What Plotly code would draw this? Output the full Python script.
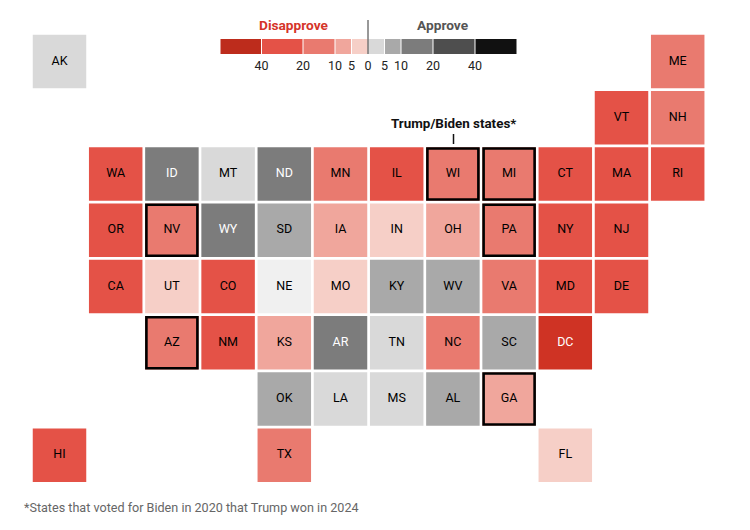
import plotly.graph_objects as go

# Tile grid of the states, top row first, None = empty tile
tile_rows = [
    ["AK", None, None, None, None, None, None, None, None, None, None, "ME"],
    [None, None, None, None, None, None, None, None, None, None, "VT", "NH"],
    [None, "WA", "ID", "MT", "ND", "MN", "IL", "WI", "MI", "CT", "MA", "RI"],
    [None, "OR", "NV", "WY", "SD", "IA", "IN", "OH", "PA", "NY", "NJ", None],
    [None, "CA", "UT", "CO", "NE", "MO", "KY", "WV", "VA", "MD", "DE", None],
    [None, None, "AZ", "NM", "KS", "AR", "TN", "NC", "SC", "DC", None, None],
    [None, None, None, None, "OK", "LA", "MS", "AL", "GA", None, None, None],
    ["HI", None, None, None, "TX", None, None, None, None, "FL", None, None],
]

states = ["AK", "ME", "VT", "NH", "WA", "ID", "MT", "ND", "MN", "IL", "WI", "MI", "CT", "MA", "RI",
          "OR", "NV", "WY", "SD", "IA", "IN", "OH", "PA", "NY", "NJ",
          "CA", "UT", "CO", "NE", "MO", "KY", "WV", "VA", "MD", "DE",
          "AZ", "NM", "KS", "AR", "TN", "NC", "SC", "DC",
          "OK", "LA", "MS", "AL", "GA", "HI", "TX", "FL"]
# Net approval, estimated from the colour band of each tile (negative = disapprove)
net_approval = [3, -15, -25, -15, -25, 15, 3, 15, -15, -25, -15, -15, -25, -25, -25,
                -25, -15, 15, 8, -8, -3, -8, -15, -25, -25,
                -25, -3, -25, 0, -3, 8, 8, -15, -25, -25,
                -15, -25, -8, 15, 3, -15, 8, -45,
                8, 3, 3, 8, -8, -25, -15, -3]
swing_states = ["WI", "MI", "NV", "PA", "AZ", "GA"]

band_edges = [-60, -40, -20, -10, -5, 0, 5, 10, 20, 40, 60]
band_colors = ["#bd2c1c", "#e45247", "#e97a6f", "#f0a69c", "#f6cfc7",
               "#d9d9d9", "#a9a9a9", "#7c7c7c", "#4e4e4e", "#111111"]
band_widths = [41.5, 41.5, 32, 16.5, 16.5, 16.5, 16.5, 32, 42, 42]
legend_ticks = [-40, -20, -10, -5, 0, 5, 10, 20, 40]
white_text = ["ID", "ND", "WY", "AR", "DC"]

FONT = "Roboto"
NEUTRAL = "#f0f0f0"
DC_RED = "#cf3324"  # DC tile is a bit brighter than the legend swatch


def band_color(v):
    if v == 0:
        return NEUTRAL
    if v < -40:
        return DC_RED
    for i in range(len(band_colors)):
        if band_edges[i] <= v < band_edges[i + 1]:
            return band_colors[i]
    return band_colors[-1]


col_of = {s: c for row in tile_rows for c, s in enumerate(row) if s}
row_of = {s: r for r, row in enumerate(tile_rows) for s in row if s}
xs = [col_of[s] for s in states]
ys = [row_of[s] for s in states]
colors = [band_color(v) for v in net_approval]
text_colors = ["white" if s in white_text else "#000000" for s in states]

fig = go.Figure()

fig.add_trace(go.Scatter(
    x=xs, y=ys, mode="markers+text", text=states,
    textposition="middle center",
    textfont=dict(family=FONT, size=12.5, color=text_colors),
    marker=dict(symbol="square", size=53.5, color=colors, line=dict(width=0)),
    customdata=net_approval,
    hovertemplate="%{text}: %{customdata}<extra></extra>",
    showlegend=False,
))

# Black outline on the Trump/Biden states
fig.add_trace(go.Scatter(
    x=[col_of[s] for s in swing_states], y=[row_of[s] for s in swing_states],
    mode="markers",
    marker=dict(symbol="square-open", size=51, color="#000000", line=dict(width=2.6, color="#000000")),
    hoverinfo="skip", showlegend=False,
))

# Legend bar, drawn on its own axes; 0 sits at the middle divider
zero_band = band_edges.index(0)
starts = [sum(band_widths[:i]) - sum(band_widths[:zero_band]) for i in range(len(band_widths))]
for start, width, color in zip(starts, band_widths, band_colors):
    fig.add_trace(go.Bar(
        x=[width - 1], y=[0], base=[start + 0.5], orientation="h", width=1,
        marker=dict(color=color, line=dict(width=0)),
        xaxis="x2", yaxis="y2", hoverinfo="skip", showlegend=False,
    ))

tick_pos = [starts[band_edges.index(t)] for t in legend_ticks]

fig.add_shape(type="line", xref="x2", x0=0, x1=0, yref="paper", y0=1 - 20 / 530, y1=1 - 54 / 530,
              line=dict(color="#333333", width=1))
fig.add_shape(type="line", xref="paper", x0=453.5 / 750, x1=453.5 / 750, yref="paper",
              y0=1 - 134 / 530, y1=1 - 144 / 530, line=dict(color="#111111", width=1.5))

fig.add_annotation(xref="paper", yref="paper", x=293.5 / 750, xanchor="center", y=1 - 25 / 530, yanchor="middle",
                   text="<b>Disapprove</b>", showarrow=False, font=dict(family=FONT, size=13.7, color="#d5342a"))
fig.add_annotation(xref="paper", yref="paper", x=442.5 / 750, xanchor="center", y=1 - 25 / 530, yanchor="middle",
                   text="<b>Approve</b>", showarrow=False, font=dict(family=FONT, size=13.7, color="#555555"))
fig.add_annotation(xref="paper", yref="paper", x=453 / 750, xanchor="center", y=1 - 124 / 530, yanchor="middle",
                   text="<b>Trump/Biden states*</b>", showarrow=False, font=dict(family=FONT, size=13.4, color="#111111"))
fig.add_annotation(xref="paper", yref="paper", x=22 / 750, xanchor="left", y=1 - 507 / 530, yanchor="middle",
                   text="*States that voted for Biden in 2020 that Trump won in 2024",
                   showarrow=False, font=dict(family=FONT, size=12.6, color="#666666"))

fig.update_layout(
    width=750, height=530,
    margin=dict(l=0, r=0, t=0, b=0),
    paper_bgcolor="white", plot_bgcolor="white",
    barmode="overlay",
    xaxis=dict(range=[-59.5 / 56.2, 690.5 / 56.2], visible=False, domain=[0, 1]),
    yaxis=dict(range=[468.5 / 56.25, -61.5 / 56.25], visible=False, domain=[0, 1]),
    xaxis2=dict(range=[-148, 149], domain=[220 / 750, 517 / 750], anchor="y2", side="bottom",
                tickvals=tick_pos, ticktext=[str(abs(t)) for t in legend_ticks],
                ticks="outside", ticklen=0, tickcolor="rgba(0,0,0,0)", showgrid=False, zeroline=False, showline=False,
                tickfont=dict(family=FONT, size=12.5, color="#222222")),
    yaxis2=dict(range=[-0.5, 0.5], domain=[1 - 54 / 530, 1 - 39 / 530], anchor="x2", visible=False),
)

fig.write_html("out.html", post_script="document.body.style.margin='0'", config=dict(displayModeBar=False))
